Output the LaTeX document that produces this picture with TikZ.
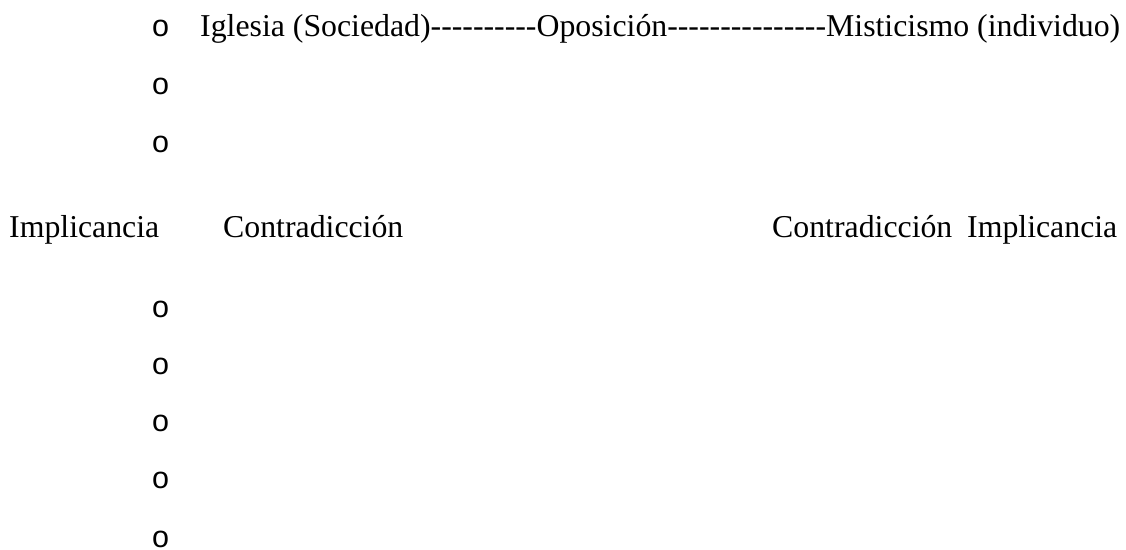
\documentclass[tikz,border=0pt]{standalone}
\usepackage{fontspec}
\setmainfont{Liberation Serif}[Ligatures=TeXOff]
\newfontfamily\bulletfont{Liberation Sans}
\usetikzlibrary{positioning}

\tikzset{
    word/.style={inner sep=0pt, anchor=base west, font=\fontsize{31.8}{38}\selectfont},
    bullet/.style={inner sep=0pt, anchor=base west, font=\bulletfont\fontsize{30.5}{36}\selectfont},
}

\begin{document}
\begin{tikzpicture}[x=1pt, y=-1pt]
    \useasboundingbox (0,0) rectangle (1126,549);
    \node [bullet] (o1) at (152,36) {o};
    \node [word] (iglesia) at (200,36) {Iglesia (Sociedad)----------Oposición---------------Misticismo (individuo)};
    \node [bullet] (o2) at (152,94) {o};
    \node [bullet] (o3) at (152,152) {o};
    \node [word] (implL) at (9,237) {Implicancia};
    \node [word] (contrL) at (223,237) {Contradicción};
    \node [word] (contrR) at (772,237) {Contradicción};
    \node [word] (implR) at (967,237) {Implicancia};
    \node [bullet] (o4) at (152,317) {o};
    \node [bullet] (o5) at (152,374) {o};
    \node [bullet] (o6) at (152,431) {o};
    \node [bullet] (o7) at (152,488) {o};
    \node [bullet] (o8) at (152,547) {o};
\end{tikzpicture}
\end{document}
